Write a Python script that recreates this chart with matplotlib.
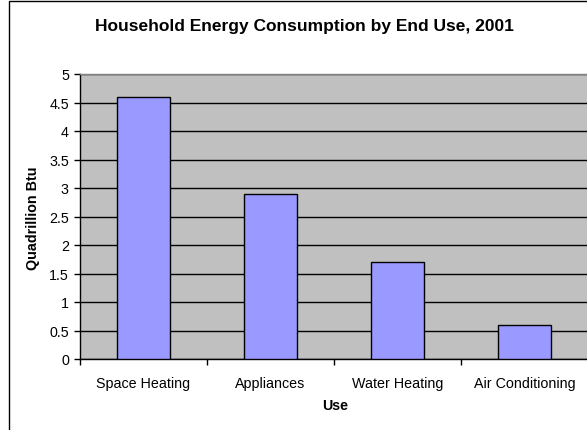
import matplotlib
matplotlib.use("Agg")
import matplotlib.pyplot as plt
from matplotlib.patches import Rectangle
import numpy as np

plt.rcParams['font.family'] = ['Liberation Sans', 'DejaVu Sans']

categories = ["Space Heating", "Appliances", "Water Heating", "Air Conditioning"]
values = [4.6, 2.9, 1.7, 0.6]
yticks = [0, 0.5, 1, 1.5, 2, 2.5, 3, 3.5, 4, 4.5, 5]
ytick_labels = ["0", "0.5", "1", "1.5", "2", "2.5", "3", "3.5", "4", "4.5", "5"]

W, H = 587, 431
fig = plt.figure(figsize=(W / 100, H / 100), dpi=100)
fig.patch.set_facecolor("white")

# chart border
fig.patches.append(Rectangle((9 / W, -0.1), 1.0, (H - 2) / H + 0.1,
                             transform=fig.transFigure, fill=False,
                             edgecolor="black", linewidth=1.0))

ax = fig.add_axes([80 / W, 1 - 360 / H, 508 / W, 285 / H])
ax.set_facecolor("#C0C0C0")
x = np.arange(len(categories))
ax.set_axisbelow(True)
ax.yaxis.grid(True, color="black", linewidth=1.0)
ax.bar(x, values, width=0.41, color="#9999FF", edgecolor="black", linewidth=1.0, zorder=3)

ax.set_xlim(-0.5, len(categories) - 0.5)
ax.set_ylim(0, 5)
ax.set_yticks(yticks)
ax.set_yticklabels(ytick_labels)
ax.set_xticks(np.arange(len(categories) + 1) - 0.5)
ax.set_xticklabels([])
ax.set_xticks(x, minor=True)
ax.set_xticklabels(categories, minor=True)
ax.tick_params(axis="x", which="major", length=4, width=1, direction="out")
ax.tick_params(axis="x", which="minor", length=0, pad=12, labelsize=10.3)
ax.tick_params(axis="y", length=4, width=1, direction="out", labelsize=10.3, pad=4)

for side in ["top", "right"]:
    ax.spines[side].set_color("#808080")
    ax.spines[side].set_linewidth(1.0)
for side in ["left", "bottom"]:
    ax.spines[side].set_color("black")
    ax.spines[side].set_linewidth(1.0)

fig.text(304 / W, 1 - 27 / H, "Household Energy Consumption by End Use, 2001",
         ha="center", va="center", fontsize=12.5, fontweight="bold")
fig.text(335 / W, 1 - 406 / H, "Use", ha="center", va="center",
         fontsize=10.3, fontweight="bold")
fig.text(33 / W, 1 - 218 / H, "Quadrillion Btu", ha="center", va="center",
         rotation=90, fontsize=10.3, fontweight="bold")

fig.savefig("out.png", dpi=100)
